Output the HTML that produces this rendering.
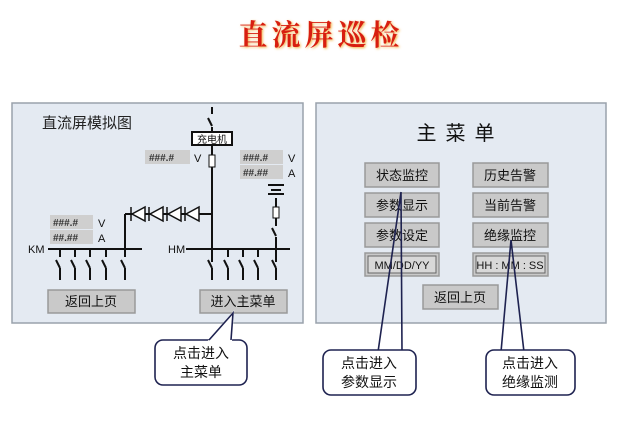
<!DOCTYPE html>
<html><head><meta charset="utf-8"><style>
body{margin:0;width:640px;height:427px;background:#fff;overflow:hidden}
text{font-family:"Liberation Sans","Noto Sans CJK SC",sans-serif}
</style></head><body>
<svg width="640" height="427" viewBox="0 0 640 427" xmlns="http://www.w3.org/2000/svg">
<defs><filter id="sh"><feGaussianBlur stdDeviation="1.2"/></filter></defs>
<text x="322" y="46" font-size="29" font-weight="bold" fill="#f0b040" text-anchor="middle" letter-spacing="4" filter="url(#sh)" style="font-family:'Noto Serif CJK SC',serif">直流屏巡检</text>
<text x="321" y="45" font-size="29" font-weight="bold" fill="#d81e10" text-anchor="middle" letter-spacing="4" style="font-family:'Noto Serif CJK SC',serif">直流屏巡检</text>

<rect x="12" y="103" width="291" height="220" fill="#e4eaf2" stroke="#9aa2ac" stroke-width="1.5"/>
<text x="42" y="128" font-size="15" fill="#222">直流屏模拟图</text>
<g stroke="#111" stroke-width="2" fill="none">
<line x1="212" y1="107" x2="212" y2="114"/>
<line x1="208" y1="118" x2="212" y2="126"/>
<line x1="212" y1="127" x2="212" y2="132"/>
<line x1="212" y1="145" x2="212" y2="155"/>
<line x1="212" y1="167" x2="212" y2="262"/>
<line x1="125" y1="214" x2="212" y2="214"/>
<line x1="125" y1="214" x2="125" y2="250"/>
<line x1="48" y1="249" x2="142" y2="249"/>
<line x1="186" y1="249" x2="290" y2="249"/>
<line x1="276" y1="198" x2="276" y2="207"/>
<line x1="276" y1="218" x2="276" y2="226"/>
<line x1="272" y1="228" x2="276" y2="236"/>
<line x1="276" y1="237" x2="276" y2="262"/>
<line x1="268" y1="185" x2="284" y2="185"/>
<line x1="271" y1="190" x2="281" y2="190"/>
<line x1="268" y1="194" x2="284" y2="194"/>
</g>
<rect x="209" y="155" width="6" height="12" fill="#fff" stroke="#111"/>
<rect x="273" y="207" width="6" height="11" fill="#fff" stroke="#111"/>
<rect x="192" y="132" width="40" height="13" fill="#fff" stroke="#111" stroke-width="2"/>
<text x="212" y="143" font-size="10" text-anchor="middle" fill="#111">充电机</text>
<g stroke="#111" stroke-width="1.5" fill="#fff">
<polygon points="132,214 145,207 145,221"/><line x1="131" y1="207" x2="131" y2="221"/>
<polygon points="150,214 163,207 163,221"/><line x1="149" y1="207" x2="149" y2="221"/>
<polygon points="168,214 181,207 181,221"/><line x1="167" y1="207" x2="167" y2="221"/>
<polygon points="186,214 199,207 199,221"/><line x1="185" y1="207" x2="185" y2="221"/>
</g>
<g stroke="#111" stroke-width="2">
<path d="M60 249v8M56 260l4 8M60 268v12 M75 249v8M71 260l4 8M75 268v12 M90 249v8M86 260l4 8M90 268v12 M106 249v8M102 260l4 8M106 268v12 M125 249v8M121 260l4 8M125 268v12"/>
<path d="M212 249v8M208 260l4 8M212 268v12 M228 249v8M224 260l4 8M228 268v12 M243 249v8M239 260l4 8M243 268v12 M258 249v8M254 260l4 8M258 268v12 M276 249v8M272 260l4 8M276 268v12"/>
</g>
<text x="28" y="253" font-size="11" fill="#111">KM</text>
<text x="168" y="253" font-size="11" fill="#111">HM</text>
<g font-size="10" fill="#333" font-weight="bold">
<rect x="145" y="150" width="45" height="14" fill="#cfcfcf"/><text x="149" y="161" font-family="Liberation Mono">###.#</text>
<rect x="240" y="150" width="43" height="14" fill="#cfcfcf"/><text x="243" y="161" font-family="Liberation Mono">###.#</text>
<rect x="240" y="165" width="43" height="14" fill="#cfcfcf"/><text x="243" y="176" font-family="Liberation Mono">##.##</text>
<rect x="50" y="215" width="43" height="14" fill="#cfcfcf"/><text x="53" y="226" font-family="Liberation Mono">###.#</text>
<rect x="50" y="230" width="43" height="14" fill="#cfcfcf"/><text x="53" y="241" font-family="Liberation Mono">##.##</text>
</g>
<g font-size="11" fill="#111">
<text x="194" y="162">V</text><text x="288" y="162">V</text><text x="288" y="177">A</text>
<text x="98" y="227">V</text><text x="98" y="242">A</text>
</g>
<g stroke="#999" stroke-width="1.5" fill="#c9c9c9">
<rect x="48" y="290" width="87" height="23"/><rect x="200" y="290" width="87" height="23"/>
</g>
<g font-size="13" fill="#111" text-anchor="middle">
<text x="91" y="306">返回上页</text><text x="243" y="306">进入主菜单</text>
</g>

<rect x="316" y="103" width="290" height="220" fill="#e4eaf2" stroke="#9aa2ac" stroke-width="1.5"/>
<text x="460" y="140" font-size="20" text-anchor="middle" fill="#111" letter-spacing="9">主菜单</text>
<g stroke="#999" stroke-width="1.5" fill="#c9c9c9">
<rect x="365" y="163" width="74" height="24"/><rect x="473" y="163" width="75" height="24"/>
<rect x="365" y="193" width="74" height="24"/><rect x="473" y="193" width="75" height="24"/>
<rect x="365" y="223" width="74" height="24"/><rect x="473" y="223" width="75" height="24"/>
<rect x="365" y="253" width="74" height="23"/><rect x="473" y="253" width="75" height="23"/>
<rect x="423" y="285" width="75" height="24"/>
</g>
<rect x="368" y="256" width="68" height="17" fill="#d8d8d8" stroke="#666"/>
<rect x="476" y="256" width="69" height="17" fill="#d8d8d8" stroke="#666"/>
<g font-size="13" fill="#111" text-anchor="middle">
<text x="402" y="180">状态监控</text><text x="510" y="180">历史告警</text>
<text x="402" y="210">参数显示</text><text x="510" y="210">当前告警</text>
<text x="402" y="240">参数设定</text><text x="510" y="240">绝缘监控</text>
<text x="460" y="302">返回上页</text>
<text x="402" y="269" font-size="11">MM/DD/YY</text><text x="510" y="269" font-size="11">HH : MM : SS</text>
</g>

<g stroke="#1e2250" stroke-width="1.6" fill="#fff">
<rect x="155" y="340" width="92" height="45" rx="8"/>
<path d="M209 341 L233 313 L231 341 Z" stroke="#fff" stroke-width="2"/>
<path d="M209 340 L233 313 L231 340" fill="none"/>
<path d="M401 192 L378 352 M401 192 L402 352" fill="none"/>
<rect x="323" y="350" width="93" height="45" rx="8"/>
<path d="M511 240 L501 352 M511 240 L524 352" fill="none"/>
<rect x="486" y="350" width="89" height="45" rx="8"/>
</g>
<g font-size="14" fill="#111" text-anchor="middle">
<text x="201" y="358">点击进入</text><text x="201" y="377">主菜单</text>
<text x="369" y="368">点击进入</text><text x="369" y="387">参数显示</text>
<text x="530" y="368">点击进入</text><text x="530" y="387">绝缘监测</text>
</g>
</svg>
</body></html>
